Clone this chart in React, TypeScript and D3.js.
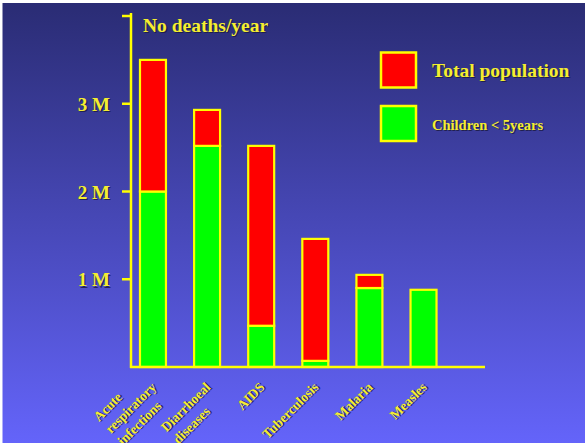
import React, { useRef, useEffect } from "react";
import * as d3 from "d3";

const categories = ["ARI", "Diarrhoeal", "AIDS", "Tuberculosis", "Malaria", "Measles"];
const labelLines = [
  ["Acute", "respiratory", "infections"],
  ["Diarrhoeal", "diseases"],
  ["AIDS"],
  ["Tuberculosis"],
  ["Malaria"],
  ["Measles"],
];
// millions of deaths per year
const totalDeaths = [3.5, 2.93, 2.52, 1.46, 1.05, 0.88];
const childDeaths = [2.0, 2.52, 0.47, 0.07, 0.9, 0.88];
const yTicks = [1, 2, 3, 4];
const tickLabels = ["1 M", "2 M", "3 M", ""];

const width = 585;
const height = 443;
const font = "'Liberation Serif', 'Times New Roman', serif";
const yellow = "#ffff00";
const textYellow = "#f4ee30";

const App = () => {
  const ref = useRef<SVGSVGElement>(null);

  useEffect(() => {
    const svg = d3.select(ref.current);
    svg.selectAll("*").remove();

    const defs = svg.append("defs");
    const grad = defs
      .append("linearGradient")
      .attr("id", "bg")
      .attr("x1", 0)
      .attr("y1", 0)
      .attr("x2", 0)
      .attr("y2", 1);
    grad.append("stop").attr("offset", "0%").attr("stop-color", "#2a2c74");
    grad.append("stop").attr("offset", "100%").attr("stop-color", "#6464fa");

    svg.append("rect").attr("width", width).attr("height", height).attr("fill", "#ffffff");
    svg
      .append("rect")
      .attr("x", 2.5)
      .attr("y", 3)
      .attr("width", width - 2.5)
      .attr("height", height - 3)
      .attr("fill", "url(#bg)");

    const y = d3.scaleLinear().domain([0, 4]).range([367, 16]);
    const x = d3
      .scaleBand()
      .domain(categories)
      .range([131, 445.5])
      .paddingInner(0.52)
      .paddingOuter(0.166);

    // text with a dark drop shadow
    const shadowText = (
      g: any,
      tx: number,
      ty: number,
      str: string,
      size: number,
      anchor = "start"
    ) => {
      [
        { dx: 1.3, dy: 1.3, fill: "#1a1a40", op: 0.8 },
        { dx: 0, dy: 0, fill: textYellow, op: 1 },
      ].forEach((s) => {
        g.append("text")
          .attr("x", tx + s.dx)
          .attr("y", ty + s.dy)
          .attr("font-family", font)
          .attr("font-weight", "bold")
          .attr("font-size", size)
          .attr("text-anchor", anchor)
          .attr("fill", s.fill)
          .attr("opacity", s.op)
          .text(str);
      });
    };

    // bars
    const bars = svg.append("g");
    categories.forEach((c, i) => {
      const bx = x(c)!;
      const bw = x.bandwidth();
      bars
        .append("rect")
        .attr("x", bx)
        .attr("y", y(childDeaths[i]))
        .attr("width", bw)
        .attr("height", y(0) - y(childDeaths[i]))
        .attr("fill", "#00ff00")
        .attr("stroke", yellow)
        .attr("stroke-width", 2.2);
      if (totalDeaths[i] > childDeaths[i]) {
        bars
          .append("rect")
          .attr("x", bx)
          .attr("y", y(totalDeaths[i]))
          .attr("width", bw)
          .attr("height", y(childDeaths[i]) - y(totalDeaths[i]))
          .attr("fill", "#ff0000")
          .attr("stroke", yellow)
          .attr("stroke-width", 2.2);
      }
    });

    // axes
    const axis = svg.append("g").attr("stroke", yellow).attr("stroke-width", 2.5);
    axis.append("line").attr("x1", 131).attr("x2", 131).attr("y1", y(4) - 3).attr("y2", y(0) + 1);
    axis.append("line").attr("x1", 130).attr("x2", 485).attr("y1", y(0)).attr("y2", y(0));
    yTicks.forEach((t, i) => {
      axis.append("line").attr("x1", 122).attr("x2", 131).attr("y1", y(t)).attr("y2", y(t));
      if (tickLabels[i]) shadowText(svg, 110, y(t) + 7, tickLabels[i], 19, "end");
    });

    // title
    shadowText(svg, 143, 31.5, "No deaths/year", 19.5);

    // legend
    svg
      .append("rect")
      .attr("x", 381)
      .attr("y", 52.5)
      .attr("width", 35)
      .attr("height", 35)
      .attr("fill", "#ff0000")
      .attr("stroke", yellow)
      .attr("stroke-width", 2.5);
    svg
      .append("rect")
      .attr("x", 381)
      .attr("y", 106)
      .attr("width", 35)
      .attr("height", 35)
      .attr("fill", "#00ff00")
      .attr("stroke", yellow)
      .attr("stroke-width", 2.5);
    shadowText(svg, 432, 77, "Total population", 19.5);
    shadowText(svg, 432, 130, "Children < 5years", 14.5);

    // rotated category labels
    const lh = 17;
    categories.forEach((c, i) => {
      const ax = x(c)! + x.bandwidth() / 2 + 4;
      const g = svg.append("g").attr("transform", `translate(${ax},388) rotate(-45)`);
      const lines = labelLines[i];
      const probe = g
        .append("text")
        .attr("font-family", font)
        .attr("font-weight", "bold")
        .attr("font-size", 13.5);
      const widths = lines.map((l) => {
        probe.text(l);
        return (probe.node() as SVGTextElement).getComputedTextLength();
      });
      probe.remove();
      const maxW = d3.max(widths)!;
      const longest = widths.indexOf(maxW);
      lines.forEach((l, j) => {
        shadowText(g, -maxW, (j - longest) * lh, l, 13.5);
      });
    });
  }, []);

  return (
    <svg
      ref={ref}
      width={width}
      height={height}
      style={{ position: "absolute", left: 0, top: 0, display: "block" }}
    />
  );
};

export default App;
